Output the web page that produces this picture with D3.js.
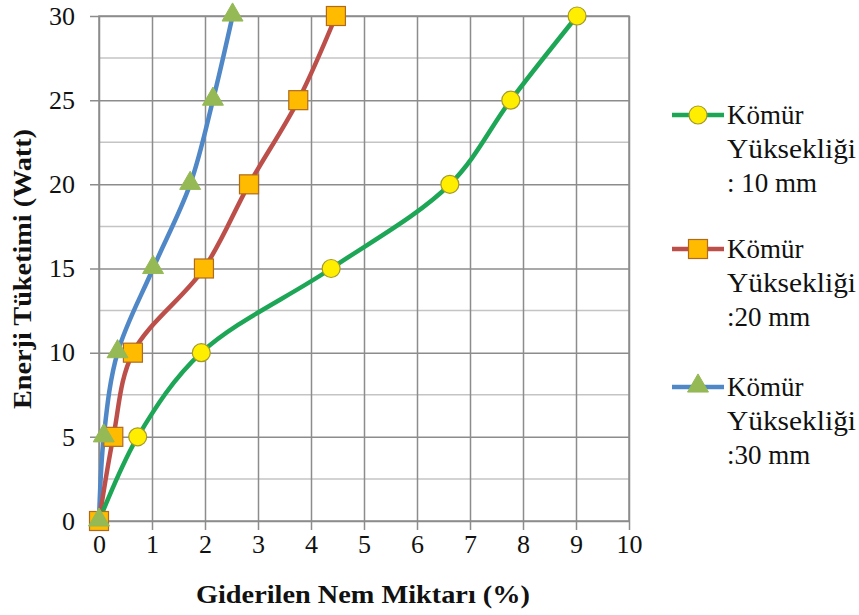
<!DOCTYPE html>
<html lang="tr">
<head>
<meta charset="UTF-8">
<title>Enerji Tüketimi</title>
<script src="https://cdn.jsdelivr.net/npm/d3@7"></script>
<style>
  body { margin: 0; background: #fff; }
</style>
</head>
<body>
<script>
// values
var energy = [0, 5, 10, 15, 20, 25, 30];          // Enerji Tüketimi (Watt)
var nem10 = [0, 0.73, 1.93, 4.38, 6.62, 7.77, 9.02]; // Kömür Yüksekliği : 10 mm
var nem20 = [0, 0.27, 0.64, 1.98, 2.83, 3.76, 4.47]; // :20 mm
var nem30 = [0, 0.09, 0.35, 1.02, 1.72, 2.15, 2.52]; // :30 mm
var xTicks = [0, 1, 2, 3, 4, 5, 6, 7, 8, 9, 10];
var yTicks = [0, 5, 10, 15, 20, 25, 30];
var yMinor = [2.5, 7.5, 12.5, 17.5, 22.5, 27.5];
var legendLabels = [["Kömür", "Yüksekliği", ": 10 mm"], ["Kömür", "Yüksekliği", ":20 mm"], ["Kömür", "Yüksekliği", ":30 mm"]];

var width = 859, height = 615;
var pLeft = 99, pRight = 629, pTop = 16, pBottom = 521;
var serif = "Liberation Serif";

var x = d3.scaleLinear().domain([0, 10]).range([pLeft, pRight]);
var y = d3.scaleLinear().domain([0, 30]).range([pBottom, pTop]);

var svg = d3.select("body").append("svg")
  .attr("width", width)
  .attr("height", height);

// minor horizontal grid
svg.append("g").selectAll("line").data(yMinor).enter().append("line")
  .attr("x1", pLeft).attr("x2", pRight)
  .attr("y1", function (d) { return y(d); }).attr("y2", function (d) { return y(d); })
  .attr("stroke", "#c4c4c4").attr("stroke-width", 1.5);

// x axis with vertical grid
svg.append("g")
  .attr("transform", "translate(0," + pBottom + ")")
  .call(d3.axisBottom(x).tickValues(xTicks).tickSize(-(pBottom - pTop)).tickSizeOuter(0).tickPadding(14))
  .call(function (g) {
    g.select(".domain").remove();
    g.selectAll(".tick line").attr("stroke", "#8c8c8c").attr("stroke-width", 1.5).attr("y1", 9);
    g.selectAll(".tick text").style("font-family", serif).style("font-size", "26px").attr("fill", "#111");
  });

// y axis with horizontal grid
svg.append("g")
  .attr("transform", "translate(" + pLeft + ",0)")
  .call(d3.axisLeft(y).tickValues(yTicks).tickSize(-(pRight - pLeft)).tickSizeOuter(0).tickPadding(24))
  .call(function (g) {
    g.select(".domain").remove();
    g.selectAll(".tick line").attr("stroke", "#8c8c8c").attr("stroke-width", 1.5).attr("x1", -9);
    g.selectAll(".tick text").style("font-family", serif).style("font-size", "26px").attr("fill", "#111");
  });

// plot border
svg.append("rect")
  .attr("x", pLeft).attr("y", pTop)
  .attr("width", pRight - pLeft).attr("height", pBottom - pTop)
  .attr("fill", "none").attr("stroke", "#8c8c8c").attr("stroke-width", 1.5);

var series = [
  { vals: nem10, line: "#1da656", fill: "#ffee00", stroke: "#a39a2a", shape: "circle" },
  { vals: nem20, line: "#bd4f4b", fill: "#ffbb00", stroke: "#b06a1e", shape: "square" },
  { vals: nem30, line: "#4f87c7", fill: "#95b954", stroke: "#95b954", shape: "triangle" }
];

var line = d3.line()
  .x(function (d) { return x(d[0]); })
  .y(function (d) { return y(d[1]); })
  .curve(d3.curveCatmullRom.alpha(0.5));

// lines (blue, red, green so green sits on top)
[2, 1, 0].forEach(function (i) {
  var s = series[i];
  svg.append("path")
    .datum(s.vals.map(function (v, j) { return [v, energy[j]]; }))
    .attr("d", line)
    .attr("fill", "none")
    .attr("stroke", s.line)
    .attr("stroke-width", 4.5)
    .attr("stroke-linecap", "round");
});

function marker(g, s, cx, cy) {
  if (s.shape == "circle") {
    g.append("circle").attr("cx", cx).attr("cy", cy).attr("r", 9)
      .attr("fill", s.fill).attr("stroke", s.stroke).attr("stroke-width", 1.2);
  } else if (s.shape == "square") {
    g.append("rect").attr("x", cx - 9.5).attr("y", cy - 9.5).attr("width", 19).attr("height", 19)
      .attr("fill", s.fill).attr("stroke", s.stroke).attr("stroke-width", 1.2);
  } else {
    g.append("path")
      .attr("d", d3.symbol().type(d3.symbolTriangle).size(190)())
      .attr("transform", "translate(" + cx + "," + (cy - 1) + ")")
      .attr("fill", s.fill).attr("stroke", s.stroke).attr("stroke-width", 1);
  }
}

// markers
series.forEach(function (s) {
  var g = svg.append("g");
  s.vals.forEach(function (v, j) { marker(g, s, x(v), y(energy[j])); });
});

// legend
var legendY = [115, 249, 387];
series.forEach(function (s, i) {
  var g = svg.append("g").attr("transform", "translate(0," + legendY[i] + ")");
  g.append("line").attr("x1", 672).attr("x2", 724).attr("y1", 0).attr("y2", 0)
    .attr("stroke", s.line).attr("stroke-width", 4.5);
  marker(g, s, 698, 0);
  legendLabels[i].forEach(function (t, k) {
    var tx = g.append("text")
      .attr("x", 727).attr("y", 9 + k * 34)
      .style("font-family", serif).style("font-size", "27px")
      .attr("fill", "#111")
      .text(t);
    if (k == 1) tx.attr("textLength", 129).attr("lengthAdjust", "spacingAndGlyphs");
  });
});

// axis titles
svg.append("text")
  .attr("x", 363).attr("y", 603)
  .attr("text-anchor", "middle")
  .attr("textLength", 334).attr("lengthAdjust", "spacingAndGlyphs")
  .style("font-family", serif).style("font-size", "26px").style("font-weight", "bold")
  .attr("fill", "#111")
  .text("Giderilen Nem Miktarı (%)");

svg.append("text")
  .attr("transform", "translate(31,269) rotate(-90)")
  .attr("text-anchor", "middle")
  .attr("textLength", 280).attr("lengthAdjust", "spacingAndGlyphs")
  .style("font-family", serif).style("font-size", "26px").style("font-weight", "bold")
  .attr("fill", "#111")
  .text("Enerji Tüketimi (Watt)");
</script>
</body>
</html>
